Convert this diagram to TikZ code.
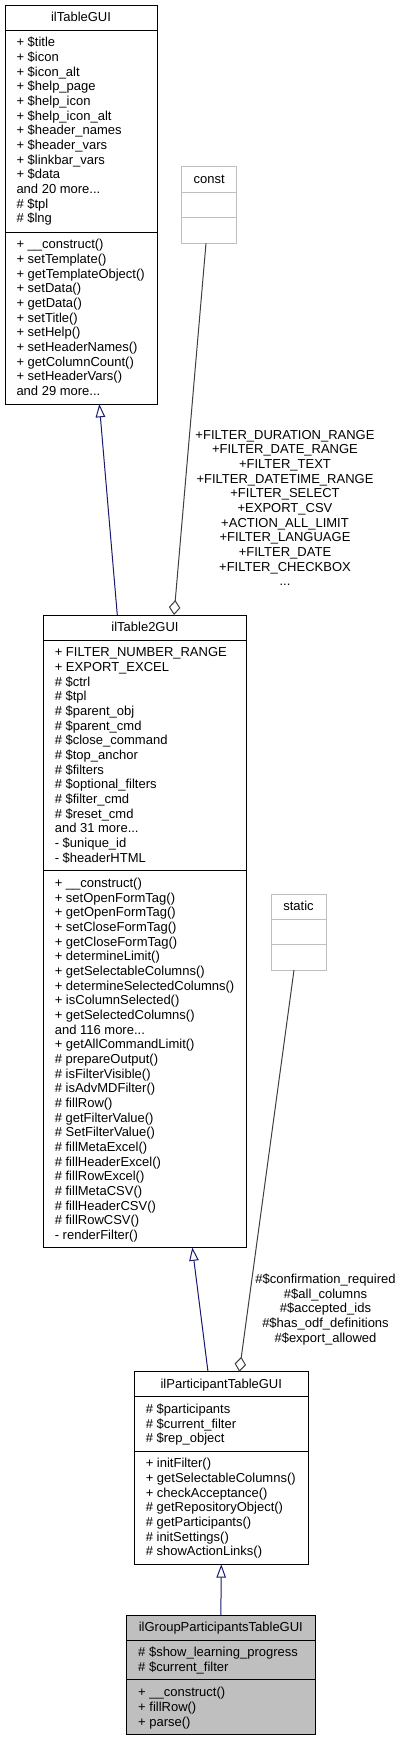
\documentclass[tikz,border=0pt]{standalone}
\usepackage{fontspec}
\setmainfont{Liberation Sans}
\usetikzlibrary{arrows.meta,calc}
\definecolor{inhcol}{HTML}{191970}
\definecolor{aggcol}{HTML}{404040}
\definecolor{graycol}{HTML}{BFBFBF}
\tikzset{
  classbox/.style={draw=black, line width=1pt, anchor=north west, inner sep=0pt, outer sep=0pt},
  member/.style={anchor=base west, inner sep=0pt, font=\fontsize{13}{14.67}\selectfont},
  ctitle/.style={anchor=base, inner sep=0pt, font=\fontsize{13}{14.67}\selectfont},
  elabel/.style={anchor=base, inner sep=0pt, font=\fontsize{13}{14.67}\selectfont},
  inh/.style={draw=inhcol, line width=1pt, -{Triangle[open,length=13.3pt,width=9.5pt]}},
  aggr/.style={draw=aggcol, line width=1pt, {Diamond[open,length=15pt,width=11.5pt]}-},
}
\newcommand\mydots{.{}.{}.}
\newcommand\members[4]{%
  \foreach \t [count=\i from 0] in {#4}{%
    \node[member] (#1-#2-\i) at ($(#1.north west)+(11.3,{#3+\i*14.67})$) {\t};
  }}
\newcommand\secrule[3]{%
  \draw[line width=1pt, draw=#3] ($(#1.north west)+(0,#2)$) -- ($(#1.north east)+(0,#2)$);}
\begin{document}
\begin{tikzpicture}[x=1pt,y=-1pt]
\fill[white] (0,0) rectangle (401,1741);
\useasboundingbox (0,0) rectangle (401,1741);

% ilTableGUI
\node[classbox, minimum width=152pt, minimum height=399pt] (A) at (5,5) {};
\node[ctitle] (A-title) at ($(A.north)+(0,16.8)$) {ilTableGUI};
\secrule{A}{25}{black}
\secrule{A}{227}{black}
\members{A}{att}{41.8}{+ \$title, + \$icon, + \$icon\_alt, + \$help\_page, + \$help\_icon, + \$help\_icon\_alt, + \$header\_names, + \$header\_vars, + \$linkbar\_vars, + \$data, and 20 more\mydots, \# \$tpl, \# \$lng}
\members{A}{met}{243.8}{+ \_\_construct(), + setTemplate(), + getTemplateObject(), + setData(), + getData(), + setTitle(), + setHelp(), + setHeaderNames(), + getColumnCount(), + setHeaderVars(), and 29 more\mydots}

% const
\node[classbox, draw=graycol, minimum width=55pt, minimum height=76.6pt] (const) at (181.7,166.7) {};
\node[ctitle] (const-title) at ($(const.north)+(0,16.8)$) {const};
\secrule{const}{25.4}{graycol}
\secrule{const}{50.8}{graycol}

% ilTable2GUI
\node[classbox, minimum width=203.4pt, minimum height=632.5pt] (B) at (43.3,615) {};
\node[ctitle] (B-title) at ($(B.north)+(0,16.8)$) {ilTable2GUI};
\secrule{B}{25}{black}
\secrule{B}{255.6}{black}
\members{B}{att}{41.8}{+ FILTER\_NUMBER\_RANGE, + EXPORT\_EXCEL, \# \$ctrl, \# \$tpl, \# \$parent\_obj, \# \$parent\_cmd, \# \$close\_command, \# \$top\_anchor, \# \$filters, \# \$optional\_filters, \# \$filter\_cmd, \# \$reset\_cmd, and 31 more\mydots, - \$unique\_id, - \$headerHTML}
\members{B}{met}{272.4}{+ \_\_construct(), + setOpenFormTag(), + getOpenFormTag(), + setCloseFormTag(), + getCloseFormTag(), + determineLimit(), + getSelectableColumns(), + determineSelectedColumns(), + isColumnSelected(), + getSelectedColumns(), and 116 more\mydots, + getAllCommandLimit(), \# prepareOutput(), \# isFilterVisible(), \# isAdvMDFilter(), \# fillRow(), \# getFilterValue(), \# SetFilterValue(), \# fillMetaExcel(), \# fillHeaderExcel(), \# fillRowExcel(), \# fillMetaCSV(), \# fillHeaderCSV(), \# fillRowCSV(), - renderFilter()}

% static
\node[classbox, draw=graycol, minimum width=55pt, minimum height=76pt] (static) at (271,894) {};
\node[ctitle] (static-title) at ($(static.north)+(0,16.8)$) {static};
\secrule{static}{25}{graycol}
\secrule{static}{50.5}{graycol}

% ilParticipantTableGUI
\node[classbox, minimum width=174pt, minimum height=192.6pt] (C) at (134.3,1371.7) {};
\node[ctitle] (C-title) at ($(C.north)+(0,16.8)$) {ilParticipantTableGUI};
\secrule{C}{25}{black}
\secrule{C}{79.4}{black}
\members{C}{att}{41.8}{\# \$participants, \# \$current\_filter, \# \$rep\_object}
\members{C}{met}{96.2}{+ initFilter(), + getSelectableColumns(), + checkAcceptance(), \# getRepositoryObject(), \# getParticipants(), \# initSettings(), \# showActionLinks()}

% ilGroupParticipantsTableGUI
\node[classbox, fill=graycol, minimum width=188.3pt, minimum height=119.5pt] (D) at (126.7,1615) {};
\node[ctitle] (D-title) at ($(D.north)+(0,16.8)$) {ilGroupParticipantsTableGUI};
\secrule{D}{25}{black}
\secrule{D}{64.9}{black}
\members{D}{att}{41.8}{\# \$show\_learning\_progress, \# \$current\_filter}
\members{D}{met}{81.7}{+ \_\_construct(), + fillRow(), + parse()}

% connectors
\draw[inh] ($(B.north)+(-27.7,0)$) -- ($(A.south)+(18.3,0)$);
\draw[aggr] ($(B.north)+(29,0)$) -- ($(const.south)+(-3.2,0)$);
\draw[inh] ($(C.north)+(-13.3,0)$) -- ($(B.south)+(47.3,0)$);
\draw[aggr] ($(C.north)+(18,0)$) -- ($(static.south)+(-4.5,0)$);
\draw[inh] (D.north) -- (C.south);

% edge labels
\foreach \t [count=\i from 0] in {+FILTER\_DURATION\_RANGE, +FILTER\_DATE\_RANGE, +FILTER\_TEXT, +FILTER\_DATETIME\_RANGE, +FILTER\_SELECT, +EXPORT\_CSV, +ACTION\_ALL\_LIMIT, +FILTER\_LANGUAGE, +FILTER\_DATE, +FILTER\_CHECKBOX, \mydots}{%
  \node[elabel] (lc-\i) at (285,{439+\i*14.67}) {\t};
}
\foreach \t [count=\i from 0] in {\#\$confirmation\_required, \#\$all\_columns, \#\$accepted\_ids, \#\$has\_odf\_definitions, \#\$export\_allowed}{%
  \node[elabel] (ls-\i) at (325.5,{1283.5+\i*14.67}) {\t};
}
\end{tikzpicture}
\end{document}
